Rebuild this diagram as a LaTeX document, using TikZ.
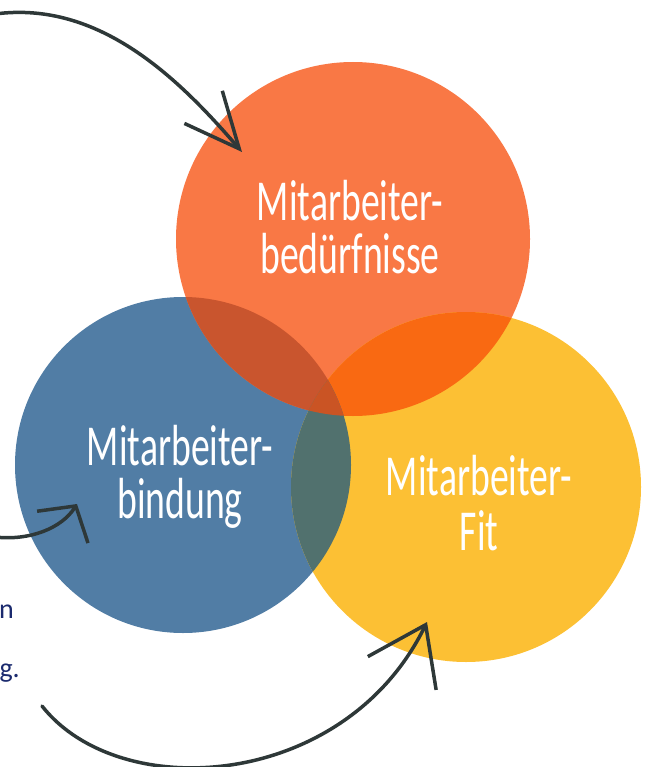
\documentclass[tikz,border=0pt]{standalone}
\usepackage{fontspec}
\usepackage{tikz}
\usetikzlibrary{arrows.meta,positioning}
\newfontfamily\handfont{Carlito}
\newfontfamily\notefont{Carlito}
\definecolor{needsorange}{HTML}{F97845}
\definecolor{bindblue}{HTML}{517DA5}
\definecolor{fityellow}{HTML}{FCC034}
\definecolor{obmix}{HTML}{C9552E}
\definecolor{oymix}{HTML}{F96912}
\definecolor{bymix}{HTML}{51716E}
\definecolor{allmix}{HTML}{CA5424}
\definecolor{arrowgray}{HTML}{2E3838}
\definecolor{notenavy}{HTML}{1B2A6E}
\tikzstyle{bubble} = [circle, inner sep=0pt, draw=none]
\tikzstyle{ctext} = [text=white, align=center, inner sep=0pt,
    font=\handfont\fontsize{58}{53}\selectfont]
\tikzstyle{sketch} = [draw=arrowgray, line width=3.5pt, line cap=round]
\tikzstyle{note} = [text=notenavy, inner sep=0pt,
    font=\notefont\fontsize{28}{30}\selectfont]
\newcommand{\narrow}[1]{\scalebox{0.65}[1]{#1}}

\begin{document}
\begin{tikzpicture}[x=1pt,y=-1pt]
    \useasboundingbox (0,0) rectangle (654,767);

    % We start by placing the three circles
    \node [bubble, fill=bindblue, minimum size=336pt] (bindung) at (183,465) {};
    \node [bubble, fill=needsorange, minimum size=354pt] (needs) at (353,239) {};
    \node [bubble, fill=fityellow, minimum size=350pt] (fit) at (466,487) {};

    % The overlaps get their own mixed colours
    \begin{scope}
        \clip (needs.center) circle (177);
        \fill [obmix] (bindung.center) circle (168);
    \end{scope}
    \begin{scope}
        \clip (needs.center) circle (177);
        \fill [oymix] (fit.center) circle (175);
    \end{scope}
    \begin{scope}
        \clip (bindung.center) circle (168);
        \fill [bymix] (fit.center) circle (175);
    \end{scope}
    \begin{scope}
        \clip (needs.center) circle (177);
        \clip (fit.center) circle (175);
        \fill [allmix] (bindung.center) circle (168);
    \end{scope}

    % Texts inside the circles (base = last line)
    \node [ctext, anchor=base] (needstext) at (350,273)
        {\narrow{Mitarbeiter-}\\\narrow{bedürfnisse}};
    \node [ctext, anchor=base] (bindtext) at (180,518)
        {\narrow{Mitarbeiter-}\\\narrow{bindung}};
    \node [ctext, anchor=base] (fittext) at (479,550)
        {\narrow{Mitarbeiter-}\\[2pt]\narrow{Fit}};

    % Cut off text on the left edge
    \node [note, anchor=base east] (noteone) at (14,618) {n};
    \node [note, anchor=base east] (notetwo) at (20,677) {g.};

    % Arrows come in from the left
    \coordinate (topstart) at (-5,14);
    \coordinate (needsin) at (242,152);
    \coordinate (midstart) at (-5,537);
    \coordinate (bindin) at (77,504);
    \coordinate (lowstart) at (42,706);
    \coordinate (fitin) at (427,622);

    \draw [sketch, -{Straight Barb[length=55pt,width=50pt]}] (topstart)
        .. controls (100,0) and (180,80) .. (needsin);
    \draw [sketch, -{Straight Barb[length=25pt,width=60pt]}] (midstart)
        .. controls (30,541) and (62,528) .. (bindin);
    \draw [sketch, -{Straight Barb[length=54pt,width=76pt]}] (lowstart)
        .. controls (120,805) and (345,790) .. (fitin);

\end{tikzpicture}
\end{document}
